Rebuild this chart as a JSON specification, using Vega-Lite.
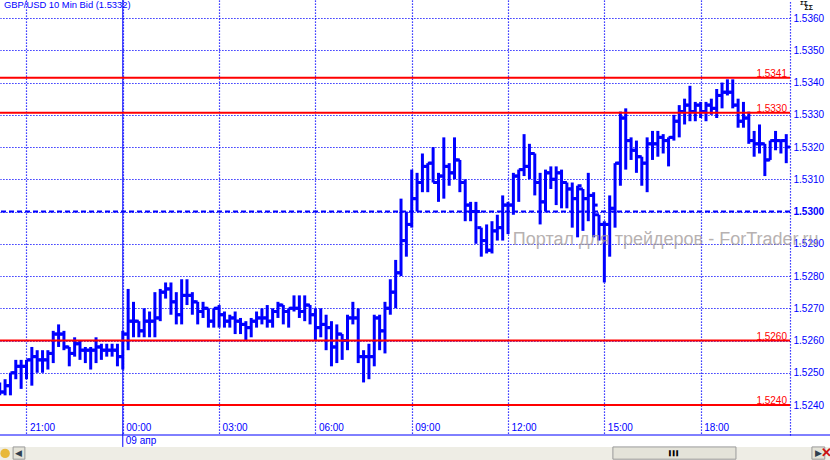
{"$schema":"https://vega.github.io/schema/vega-lite/v6.json","width":790,"height":435,"padding":{"left":0,"top":0,"right":40,"bottom":25},"autosize":{"type":"none"},"background":"white","config":{"view":{"stroke":null},"font":"Liberation Sans"},
"data":{"values":[{}]},
"datasets":{"bars":[
{"m":-50,"o":1.5246,"h":1.5247,"l":1.5243,"c":1.5244},
{"m":-40,"o":1.5244,"h":1.5248,"l":1.5243,"c":1.5246},
{"m":-30,"o":1.5246,"h":1.5250,"l":1.5243,"c":1.5250},
{"m":-20,"o":1.5250,"h":1.5254,"l":1.5248,"c":1.5252},
{"m":-10,"o":1.5252,"h":1.5254,"l":1.5245,"c":1.5252},
{"m":0,"o":1.5252,"h":1.5254,"l":1.5248,"c":1.5254},
{"m":10,"o":1.5254,"h":1.5258,"l":1.5246,"c":1.5255},
{"m":20,"o":1.5255,"h":1.5257,"l":1.5250,"c":1.5254},
{"m":30,"o":1.5254,"h":1.5257,"l":1.5250,"c":1.5254},
{"m":40,"o":1.5254,"h":1.5257,"l":1.5251,"c":1.5256},
{"m":50,"o":1.5256,"h":1.5263,"l":1.5253,"c":1.5262},
{"m":60,"o":1.5262,"h":1.5265,"l":1.5258,"c":1.5262},
{"m":70,"o":1.5262,"h":1.5263,"l":1.5257,"c":1.5258},
{"m":80,"o":1.5258,"h":1.5258,"l":1.5252,"c":1.5256},
{"m":90,"o":1.5256,"h":1.5261,"l":1.5255,"c":1.5259},
{"m":100,"o":1.5259,"h":1.5260,"l":1.5254,"c":1.5257},
{"m":110,"o":1.5257,"h":1.5258,"l":1.5253,"c":1.5257},
{"m":120,"o":1.5257,"h":1.5258,"l":1.5251,"c":1.5257},
{"m":130,"o":1.5257,"h":1.5261,"l":1.5253,"c":1.5258},
{"m":140,"o":1.5258,"h":1.5259,"l":1.5254,"c":1.5257},
{"m":150,"o":1.5257,"h":1.5259,"l":1.5255,"c":1.5257},
{"m":160,"o":1.5257,"h":1.5259,"l":1.5255,"c":1.5257},
{"m":170,"o":1.5257,"h":1.5259,"l":1.5252,"c":1.5255},
{"m":180,"o":1.5255,"h":1.5263,"l":1.5251,"c":1.5262},
{"m":190,"o":1.5262,"h":1.5276,"l":1.5257,"c":1.5266},
{"m":200,"o":1.5266,"h":1.5272,"l":1.5261,"c":1.5266},
{"m":210,"o":1.5266,"h":1.5266,"l":1.5261,"c":1.5263},
{"m":220,"o":1.5263,"h":1.5270,"l":1.5261,"c":1.5266},
{"m":230,"o":1.5266,"h":1.5269,"l":1.5261,"c":1.5266},
{"m":240,"o":1.5266,"h":1.5275,"l":1.5261,"c":1.5267},
{"m":250,"o":1.5267,"h":1.5276,"l":1.5266,"c":1.5275},
{"m":260,"o":1.5275,"h":1.5278,"l":1.5273,"c":1.5276},
{"m":270,"o":1.5276,"h":1.5278,"l":1.5268,"c":1.5272},
{"m":280,"o":1.5272,"h":1.5275,"l":1.5265,"c":1.5268},
{"m":290,"o":1.5268,"h":1.5279,"l":1.5265,"c":1.5274},
{"m":300,"o":1.5274,"h":1.5279,"l":1.5271,"c":1.5274},
{"m":310,"o":1.5274,"h":1.5275,"l":1.5268,"c":1.5272},
{"m":320,"o":1.5272,"h":1.5272,"l":1.5265,"c":1.5269},
{"m":330,"o":1.5269,"h":1.5272,"l":1.5267,"c":1.5270},
{"m":340,"o":1.5270,"h":1.5270,"l":1.5264,"c":1.5266},
{"m":350,"o":1.5266,"h":1.5270,"l":1.5264,"c":1.5270},
{"m":360,"o":1.5270,"h":1.5271,"l":1.5264,"c":1.5268},
{"m":370,"o":1.5268,"h":1.5269,"l":1.5264,"c":1.5266},
{"m":380,"o":1.5266,"h":1.5268,"l":1.5264,"c":1.5267},
{"m":390,"o":1.5267,"h":1.5269,"l":1.5262,"c":1.5266},
{"m":400,"o":1.5266,"h":1.5267,"l":1.5262,"c":1.5265},
{"m":410,"o":1.5265,"h":1.5266,"l":1.5260,"c":1.5264},
{"m":420,"o":1.5264,"h":1.5267,"l":1.5261,"c":1.5266},
{"m":430,"o":1.5266,"h":1.5269,"l":1.5264,"c":1.5267},
{"m":440,"o":1.5267,"h":1.5270,"l":1.5265,"c":1.5267},
{"m":450,"o":1.5267,"h":1.5271,"l":1.5264,"c":1.5266},
{"m":460,"o":1.5266,"h":1.5270,"l":1.5264,"c":1.5269},
{"m":470,"o":1.5269,"h":1.5272,"l":1.5267,"c":1.5271},
{"m":480,"o":1.5271,"h":1.5271,"l":1.5265,"c":1.5269},
{"m":490,"o":1.5269,"h":1.5270,"l":1.5264,"c":1.5270},
{"m":500,"o":1.5270,"h":1.5274,"l":1.5269,"c":1.5270},
{"m":510,"o":1.5270,"h":1.5274,"l":1.5267,"c":1.5269},
{"m":520,"o":1.5269,"h":1.5274,"l":1.5266,"c":1.5271},
{"m":530,"o":1.5271,"h":1.5271,"l":1.5265,"c":1.5268},
{"m":540,"o":1.5268,"h":1.5270,"l":1.5260,"c":1.5264},
{"m":550,"o":1.5264,"h":1.5270,"l":1.5261,"c":1.5265},
{"m":560,"o":1.5265,"h":1.5268,"l":1.5257,"c":1.5264},
{"m":570,"o":1.5264,"h":1.5266,"l":1.5252,"c":1.5258},
{"m":580,"o":1.5258,"h":1.5265,"l":1.5253,"c":1.5262},
{"m":590,"o":1.5262,"h":1.5262,"l":1.5254,"c":1.5260},
{"m":600,"o":1.5260,"h":1.5268,"l":1.5257,"c":1.5267},
{"m":610,"o":1.5267,"h":1.5272,"l":1.5265,"c":1.5267},
{"m":620,"o":1.5267,"h":1.5270,"l":1.5253,"c":1.5255},
{"m":630,"o":1.5255,"h":1.5257,"l":1.5247,"c":1.5255},
{"m":640,"o":1.5255,"h":1.5259,"l":1.5248,"c":1.5255},
{"m":650,"o":1.5255,"h":1.5268,"l":1.5252,"c":1.5267},
{"m":660,"o":1.5267,"h":1.5268,"l":1.5257,"c":1.5263},
{"m":670,"o":1.5263,"h":1.5272,"l":1.5256,"c":1.5270},
{"m":680,"o":1.5270,"h":1.5279,"l":1.5268,"c":1.5275},
{"m":690,"o":1.5275,"h":1.5285,"l":1.5270,"c":1.5281},
{"m":700,"o":1.5281,"h":1.5304,"l":1.5280,"c":1.5291},
{"m":710,"o":1.5291,"h":1.5300,"l":1.5286,"c":1.5296},
{"m":720,"o":1.5296,"h":1.5313,"l":1.5295,"c":1.5304},
{"m":730,"o":1.5304,"h":1.5312,"l":1.5300,"c":1.5309},
{"m":740,"o":1.5309,"h":1.5318,"l":1.5306,"c":1.5314},
{"m":750,"o":1.5314,"h":1.5315,"l":1.5306,"c":1.5315},
{"m":760,"o":1.5315,"h":1.5320,"l":1.5309,"c":1.5309},
{"m":770,"o":1.5309,"h":1.5312,"l":1.5303,"c":1.5311},
{"m":780,"o":1.5311,"h":1.5323,"l":1.5304,"c":1.5314},
{"m":790,"o":1.5314,"h":1.5315,"l":1.5308,"c":1.5312},
{"m":800,"o":1.5312,"h":1.5323,"l":1.5310,"c":1.5316},
{"m":810,"o":1.5316,"h":1.5316,"l":1.5306,"c":1.5309},
{"m":820,"o":1.5309,"h":1.5310,"l":1.5297,"c":1.5302},
{"m":830,"o":1.5302,"h":1.5303,"l":1.5297,"c":1.5300},
{"m":840,"o":1.5300,"h":1.5303,"l":1.5290,"c":1.5300},
{"m":850,"o":1.5295,"h":1.5295,"l":1.5286,"c":1.5291},
{"m":860,"o":1.5291,"h":1.5296,"l":1.5287,"c":1.5288},
{"m":870,"o":1.5288,"h":1.5297,"l":1.5287,"c":1.5294},
{"m":880,"o":1.5294,"h":1.5299,"l":1.5291,"c":1.5295},
{"m":890,"o":1.5295,"h":1.5305,"l":1.5291,"c":1.5302},
{"m":900,"o":1.5302,"h":1.5303,"l":1.5293,"c":1.5302},
{"m":910,"o":1.5302,"h":1.5312,"l":1.5299,"c":1.5311},
{"m":920,"o":1.5311,"h":1.5313,"l":1.5303,"c":1.5313},
{"m":930,"o":1.5313,"h":1.5324,"l":1.5311,"c":1.5314},
{"m":940,"o":1.5314,"h":1.5321,"l":1.5310,"c":1.5318},
{"m":950,"o":1.5318,"h":1.5318,"l":1.5305,"c":1.5309},
{"m":960,"o":1.5309,"h":1.5312,"l":1.5296,"c":1.5303},
{"m":970,"o":1.5303,"h":1.5313,"l":1.5300,"c":1.5312},
{"m":980,"o":1.5312,"h":1.5314,"l":1.5307,"c":1.5310},
{"m":990,"o":1.5310,"h":1.5314,"l":1.5302,"c":1.5312},
{"m":1000,"o":1.5312,"h":1.5313,"l":1.5301,"c":1.5309},
{"m":1010,"o":1.5309,"h":1.5309,"l":1.5301,"c":1.5307},
{"m":1020,"o":1.5307,"h":1.5309,"l":1.5295,"c":1.5304},
{"m":1030,"o":1.5304,"h":1.5308,"l":1.5292,"c":1.5308},
{"m":1040,"o":1.5307,"h":1.5307,"l":1.5294,"c":1.5304},
{"m":1050,"o":1.5304,"h":1.5312,"l":1.5297,"c":1.5305},
{"m":1060,"o":1.5305,"h":1.5306,"l":1.5292,"c":1.5302},
{"m":1070,"o":1.5299,"h":1.5299,"l":1.5291,"c":1.5296},
{"m":1080,"o":1.5296,"h":1.5297,"l":1.5278,"c":1.5296},
{"m":1090,"o":1.5296,"h":1.5305,"l":1.5286,"c":1.5301},
{"m":1100,"o":1.5301,"h":1.5315,"l":1.5295,"c":1.5315},
{"m":1110,"o":1.5315,"h":1.5331,"l":1.5308,"c":1.5329},
{"m":1120,"o":1.5329,"h":1.5332,"l":1.5313,"c":1.5322},
{"m":1130,"o":1.5322,"h":1.5323,"l":1.5316,"c":1.5319},
{"m":1140,"o":1.5319,"h":1.5322,"l":1.5312,"c":1.5317},
{"m":1150,"o":1.5317,"h":1.5317,"l":1.5308,"c":1.5315},
{"m":1160,"o":1.5315,"h":1.5323,"l":1.5306,"c":1.5321},
{"m":1170,"o":1.5321,"h":1.5325,"l":1.5316,"c":1.5321},
{"m":1180,"o":1.5321,"h":1.5325,"l":1.5317,"c":1.5323},
{"m":1190,"o":1.5323,"h":1.5324,"l":1.5318,"c":1.5322},
{"m":1200,"o":1.5322,"h":1.5323,"l":1.5314,"c":1.5323},
{"m":1210,"o":1.5323,"h":1.5330,"l":1.5322,"c":1.5328},
{"m":1220,"o":1.5328,"h":1.5333,"l":1.5323,"c":1.5331},
{"m":1230,"o":1.5331,"h":1.5335,"l":1.5327,"c":1.5333},
{"m":1240,"o":1.5333,"h":1.5339,"l":1.5328,"c":1.5331},
{"m":1250,"o":1.5331,"h":1.5334,"l":1.5328,"c":1.5333},
{"m":1260,"o":1.5333,"h":1.5334,"l":1.5329,"c":1.5331},
{"m":1270,"o":1.5331,"h":1.5334,"l":1.5328,"c":1.5333},
{"m":1280,"o":1.5333,"h":1.5335,"l":1.5330,"c":1.5332},
{"m":1290,"o":1.5332,"h":1.5338,"l":1.5329,"c":1.5336},
{"m":1300,"o":1.5336,"h":1.5340,"l":1.5332,"c":1.5337},
{"m":1310,"o":1.5337,"h":1.5341,"l":1.5336,"c":1.5337},
{"m":1320,"o":1.5337,"h":1.5341,"l":1.5332,"c":1.5333},
{"m":1330,"o":1.5333,"h":1.5335,"l":1.5326,"c":1.5328},
{"m":1340,"o":1.5328,"h":1.5334,"l":1.5326,"c":1.5329},
{"m":1350,"o":1.5329,"h":1.5331,"l":1.5321,"c":1.5322},
{"m":1360,"o":1.5322,"h":1.5325,"l":1.5317,"c":1.5321},
{"m":1370,"o":1.5321,"h":1.5327,"l":1.5318,"c":1.5321},
{"m":1380,"o":1.5321,"h":1.5321,"l":1.5311,"c":1.5316},
{"m":1390,"o":1.5316,"h":1.5322,"l":1.5316,"c":1.5322},
{"m":1400,"o":1.5322,"h":1.5325,"l":1.5319,"c":1.5322},
{"m":1410,"o":1.5322,"h":1.5322,"l":1.5318,"c":1.5322},
{"m":1420,"o":1.5322,"h":1.5324,"l":1.5315,"c":1.5320}
],
"levels":[{"p":1.53415,"lab":"1.5341"},{"p":1.53306,"lab":"1.5330"},{"p":1.526,"lab":"1.5260"},{"p":1.524,"lab":"1.5240"}]},
"encoding":{
  "y":{"type":"quantitative","scale":{"domain":[1.52307,1.53656],"nice":false,"zero":false},
   "axis":{"title":null,"orient":"right","values":[1.524,1.525,1.526,1.527,1.528,1.529,1.53,1.531,1.532,1.533,1.534,1.535,1.536],"format":".4f","labelFontSize":10,"labelColor":"#0000ff","labelPadding":3,"labelOverlap":false,"labelFontWeight":{"condition":{"test":"abs(datum.value-1.53)<0.00001","value":"bold"},"value":"normal"},"ticks":false,"domain":true,"domainColor":"#0000ff","domainDash":[1.2,1.8],"domainWidth":1.2,"grid":true,"gridColor":"#0000ff","gridWidth":1.2,"gridDash":[1.2,1.8],"gridOpacity":1}}
},
"layer":[
{"data":{"name":"bars"},"mark":{"type":"rule","color":"#0000ff","strokeWidth":3},"encoding":{
  "x":{"field":"m","type":"quantitative","scale":{"domain":[-49.5,1427],"nice":false,"zero":false},
   "axis":{"title":null,"values":[0,180,360,540,720,900,1080,1260],"labelExpr":"{'0':'21:00','180':'00:00','360':'03:00','540':'06:00','720':'09:00','900':'12:00','1080':'15:00','1260':'18:00'}[datum.value]","labelFontSize":10,"labelColor":"#0000ff","labelAlign":"left","labelBaseline":"top","labelPadding":-13,"labelOffset":3,"labelFlush":false,"labelOverlap":false,"ticks":false,"domain":false,"grid":true,"gridColor":"#0000ff","gridWidth":1.2,"gridDash":[1.2,1.8],"gridOpacity":1}},
  "y":{"field":"h","type":"quantitative"},
  "y2":{"field":"l"}}},
{"data":{"name":"bars"},"mark":{"type":"tick","orient":"horizontal","color":"#0000ff","size":4,"thickness":3,"xOffset":-2,"opacity":1},"encoding":{"x":{"field":"m","type":"quantitative"},"y":{"field":"o","type":"quantitative"}}},
{"data":{"name":"bars"},"mark":{"type":"tick","orient":"horizontal","color":"#0000ff","size":4,"thickness":3,"xOffset":2,"opacity":1},"encoding":{"x":{"field":"m","type":"quantitative"},"y":{"field":"c","type":"quantitative"}}},
{"mark":{"type":"rule","color":"#0000ff","strokeWidth":2,"strokeDash":[5,3]},"encoding":{"y":{"datum":1.53}}},
{"mark":{"type":"rule","color":"#0000ff","strokeWidth":1},"encoding":{"x":{"datum":180},"y":{"datum":1.5366},"y2":{"datum":1.5227}}},
{"mark":{"type":"rule","color":"#0000ff","strokeWidth":1},"encoding":{"x":{"datum":-49.5},"x2":{"datum":1502},"y":{"datum":1.52307}}},
{"data":{"name":"levels"},"mark":{"type":"rule","color":"#ff0000","strokeWidth":2},"encoding":{"y":{"field":"p","type":"quantitative"}}},
{"data":{"name":"levels"},"mark":{"type":"text","color":"#ff0000","fontSize":10,"align":"right","baseline":"bottom","dy":1,"dx":-3},"encoding":{"x":{"datum":1427},"y":{"field":"p","type":"quantitative"},"text":{"field":"lab"}}},
{"mark":{"type":"text","text":"Портал для трейдеров - ForTrader.ru","color":"#a09898","opacity":0.75,"fontSize":18,"align":"left","baseline":"middle"},"encoding":{"x":{"datum":909},"y":{"datum":1.52912}}},
{"mark":{"type":"text","text":"GBP/USD 10 Min Bid (1.5332)","color":"#0000ff","fontSize":9.4,"align":"left","baseline":"middle"},"encoding":{"x":{"datum":-42},"y":{"datum":1.5364}}},
{"mark":{"type":"text","text":"09 апр","color":"#0000ff","fontSize":10,"align":"left","baseline":"middle","dx":3},"encoding":{"x":{"datum":180},"y":{"datum":1.52288}}},
{"mark":{"type":"text","text":"ΣΣ","color":"#000000","fontSize":6,"fontWeight":"bold","align":"center","baseline":"middle"},"encoding":{"x":{"datum":1453},"y":{"datum":1.53648}}},
{"mark":{"type":"text","text":"ΣΣ","color":"#000000","fontSize":7,"fontWeight":"bold","align":"center","baseline":"middle"},"encoding":{"x":{"datum":1462},"y":{"datum":1.5363}}},
{"mark":{"type":"rect","color":"#eeede5"},"encoding":{"x":{"datum":-49.5},"x2":{"datum":1502},"y":{"datum":1.5227},"y2":{"datum":1.52229}}},
{"mark":{"type":"rect","fill":"#e4e3d9","stroke":"#9a9a9a","strokeWidth":1},"encoding":{"x":{"datum":1096},"x2":{"datum":1326},"y":{"datum":1.5227},"y2":{"datum":1.52232}}},
{"mark":{"type":"rect","fill":"#e4e3d9","stroke":"#9a9a9a","strokeWidth":1},"encoding":{"x":{"datum":-25},"x2":{"datum":-3},"y":{"datum":1.5227},"y2":{"datum":1.52232}}},
{"mark":{"type":"rect","fill":"#e4e3d9","stroke":"#9a9a9a","strokeWidth":1},"encoding":{"x":{"datum":1468},"x2":{"datum":1492},"y":{"datum":1.5227},"y2":{"datum":1.52232}}},
{"mark":{"type":"text","text":"▌▌▌","color":"#000000","fontSize":5,"align":"center","baseline":"middle"},"encoding":{"x":{"datum":1211},"y":{"datum":1.5225}}},
{"mark":{"type":"text","text":"◀","color":"#2f3f4f","fontSize":9,"align":"center","baseline":"middle"},"encoding":{"x":{"datum":-14},"y":{"datum":1.5225}}},
{"mark":{"type":"text","text":"▶","color":"#2f3f4f","fontSize":9,"align":"center","baseline":"middle"},"encoding":{"x":{"datum":1480},"y":{"datum":1.5225}}},
{"mark":{"type":"text","text":"✕","color":"#cc1111","fontSize":13,"fontWeight":"bold","align":"center","baseline":"middle"},"encoding":{"x":{"datum":1495},"y":{"datum":1.5225}}},
{"mark":{"type":"point","filled":true,"color":"#e8b838","size":90,"opacity":1},"encoding":{"x":{"datum":-40},"y":{"datum":1.5225}}}
]}
